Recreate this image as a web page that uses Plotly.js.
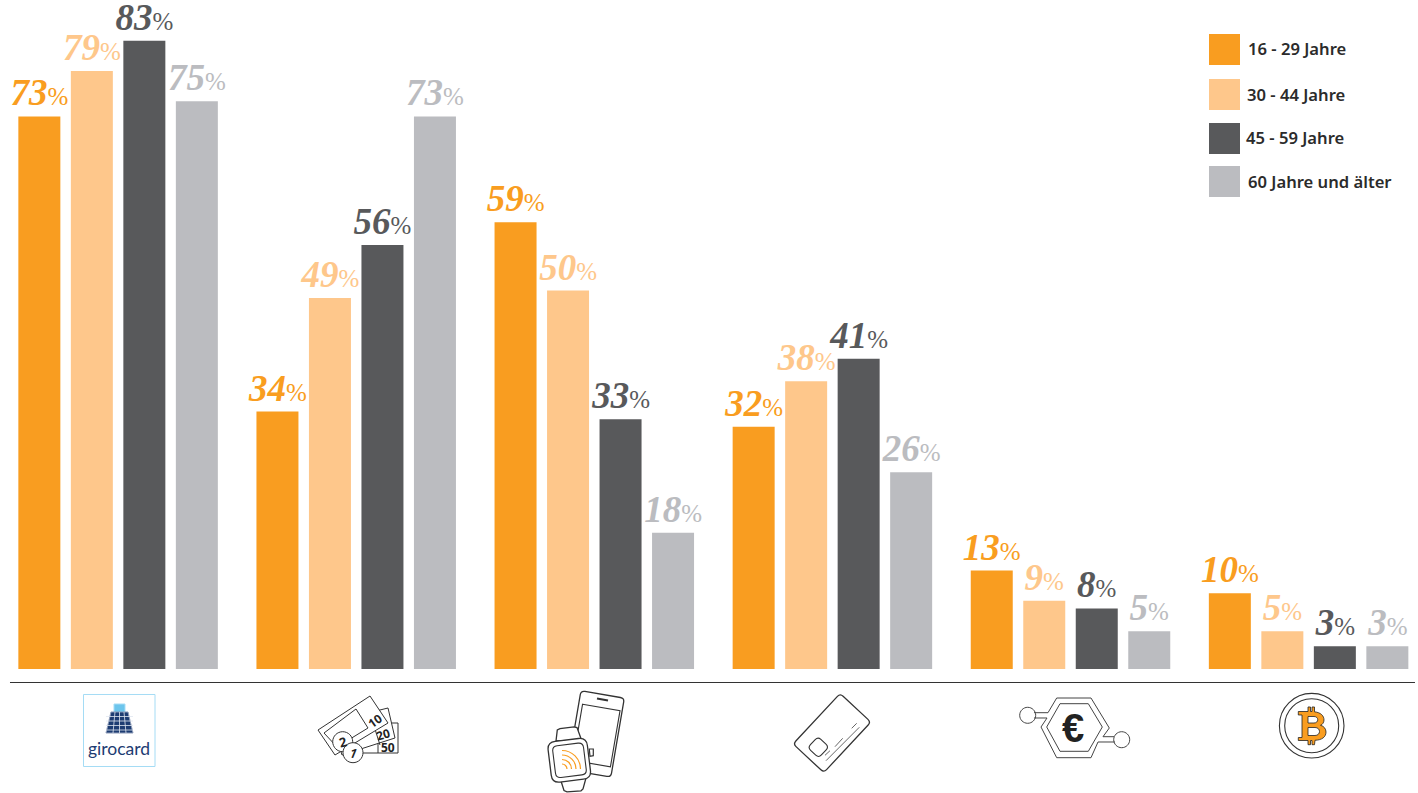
<!DOCTYPE html>
<html><head><meta charset="utf-8">
<script src="https://cdn.plot.ly/plotly-3.0.1.min.js"></script>
<style>html,body{margin:0;padding:0;background:#fff}#chart{width:1418px;height:793px}</style>
</head><body><div id="chart"></div>
<script>
const categories = ["girocard","Bargeld","Mobile Payment","Kreditkarte","Digitales Geld","Bitcoin"];
const seriesNames = ["16 - 29 Jahre","30 - 44 Jahre","45 - 59 Jahre","60 Jahre und älter"];
const seriesColors = ["#f99d20","#fec78b","#58595b","#bbbcc0"];
const age16to29 = [73,34,59,32,13,10];
const age30to44 = [79,49,50,38,9,5];
const age45to59 = [83,56,33,41,8,3];
const age60plus = [75,73,18,26,5,3];
const seriesValues = [age16to29,age30to44,age45to59,age60plus];

const W=1418,H=793;
const LABEL_FONT='"Liberation Serif", serif';
const LEGEND_FONT='"Noto Sans", "Open Sans", sans-serif';

const traces = seriesValues.map((vals,i)=>({
  type:'bar',name:seriesNames[i],x:categories,y:vals,
  marker:{color:seriesColors[i],line:{width:0}},
  text:vals.map(v=>`<b><i>${v}</i></b><span style="font-size:25px;font-weight:400">%</span>`),
  textposition:'outside',textangle:0,constraintext:'none',cliponaxis:false,
  textfont:{family:LABEL_FONT,size:37,color:seriesColors[i]},
  hoverinfo:'skip'
}));

const nx=x=>x/W, ny=y=>1-y/H;
const toPaper=d=>d.replace(/(-?[\d.]+)[ ,](-?[\d.]+)/g,(m,a,b)=>nx(+a).toFixed(6)+' '+ny(+b).toFixed(6));
const shapes=[];
function path(d,o={}){shapes.push({type:'path',xref:'paper',yref:'paper',path:toPaper(d),
  line:{color:o.stroke===undefined?'#333':o.stroke,width:o.w===undefined?1.2:o.w},
  fillcolor:o.fill||'rgba(0,0,0,0)',fillrule:'evenodd',layer:'above'});}
function poly(pts,o){path('M'+pts.map(p=>p[0]+','+p[1]).join(' L')+(o&&o.open?'':' Z'),o);}
function rrect(cx,cy,w,h,r,deg,o){
  const t=deg*Math.PI/180,c=Math.cos(t),s=Math.sin(t);
  const P=(x,y)=>(cx+x*c-y*s).toFixed(2)+','+(cy+x*s+y*c).toFixed(2);
  const a=w/2,b=h/2;
  path(`M${P(-a+r,-b)} L${P(a-r,-b)} Q${P(a,-b)} ${P(a,-b+r)} L${P(a,b-r)} Q${P(a,b)} ${P(a-r,b)} L${P(-a+r,b)} Q${P(-a,b)} ${P(-a,b-r)} L${P(-a,-b+r)} Q${P(-a,-b)} ${P(-a+r,-b)} Z`,o);
}
function circ(cx,cy,r,o){const k=r*0.5523;
  path(`M${cx-r},${cy} C${cx-r},${cy-k} ${cx-k},${cy-r} ${cx},${cy-r} C${cx+k},${cy-r} ${cx+r},${cy-k} ${cx+r},${cy} C${cx+r},${cy+k} ${cx+k},${cy+r} ${cx},${cy+r} C${cx-k},${cy+r} ${cx-r},${cy+k} ${cx-r},${cy} Z`,o);}
const annotations=[];
function label(x,y,text,o={}){annotations.push({xref:'paper',yref:'paper',x:nx(x),y:ny(y),text,showarrow:false,
  xanchor:o.anchor||'center',yanchor:'middle',textangle:o.angle||0,
  font:{family:o.family||'"Noto Sans", sans-serif',size:o.size||12,color:o.color||'#222',weight:o.weight||400}});}

path('M10,682.5 L1415,682.5',{stroke:'#333',w:1});

const legendBoxes=[[34,65,1246,49],[79,110,1245,94.3],[123,154,1244,137.3],[166,197,1246,181.3]];
legendBoxes.forEach((b,i)=>{
  shapes.push({type:'rect',xref:'paper',yref:'paper',x0:nx(1209),x1:nx(1240),y0:ny(b[1]),y1:ny(b[0]),
    fillcolor:seriesColors[i],line:{width:0}});
  label(b[2],b[3],seriesNames[i],{anchor:'left',family:LEGEND_FONT,size:16.6,weight:600,color:'#2b2b2b'});
});

poly([[83.5,694.5],[155,694.5],[155,766.5],[83.5,766.5]],{stroke:'#a5dcf5',w:1});
poly([[114,704],[125,704],[125,713],[114,713]],{stroke:'#a5dcf5',w:1,fill:'#6cc5ec'});
poly([[111,712],[128,712],[133,733],[106,733]],{stroke:'#8d9bb8',w:1,fill:'#1d3c72'});
[716.5,721,725.5,730].forEach(y=>path(`M106,${y} L133,${y}`,{stroke:'#dfe6f0',w:.8}));
path('M115,712 L113,733 M119.5,712 L119.5,733 M124,712 L126,733',{stroke:'#dfe6f0',w:.8});
label(119,748,'girocard',{family:'Lato, sans-serif',size:17.5,color:'#1d3c72'});

poly([[378,723],[398,723],[398,753],[358,753],[358,745]],{fill:'#fff',w:1});
path('M378,723 L378,753',{w:1});
poly([[388,708],[395,738],[342,755],[332,722]],{fill:'#fff',w:1});
path('M374,726 L380,745',{w:1});
poly([[370,696],[388,723],[335,755],[318,730]],{fill:'#fff',w:1});
poly([[356,709],[368,728],[337,747],[324,733]],{fill:'#fff',w:1});
label(375.5,720.5,'10',{size:12,weight:700,angle:-35});
label(383,734,'20',{size:12,weight:700,angle:-16});
label(388,747,'50',{size:12,weight:700});
circ(342.7,741.7,10,{fill:'#fff',w:1});
circ(353,752.7,10,{fill:'#fff',w:1});
label(342.5,741.5,'2',{size:13,weight:700,angle:-15});
label(353.5,752.5,'<i>1</i>',{size:13,weight:600,angle:10});

rrect(595.9,733.9,44,80,4,9.7,{fill:'#fff',w:1.3});
rrect(596.5,735.5,38,57,0,9.7,{w:1.1});
path('M597,698.5 L608,700.5',{w:2.2});
poly([[589.3,749],[593.3,749],[593.3,755.7],[590,756.3]],{fill:'#fff',w:1.2});
poly([[556,741],[557.3,730],[560,728.6],[574,726.8],[577,727.5],[581.5,740]],{fill:'#fff',w:1.3});
poly([[561,781],[564,790.5],[567,791.8],[581,790.8],[583,789],[586,778]],{fill:'#fff',w:1.3});
rrect(569.3,760.3,39.5,41,8,-7,{fill:'#fff',w:1.3});
rrect(569.5,760.3,31,32,5,-7,{fill:'#fff',w:1.1});
[18.5,14,9.5,5].forEach(r=>{const cx=562,cy=769,k=r*0.5523;
  path(`M${cx},${cy-r} C${cx+k},${cy-r} ${cx+r},${cy-k} ${cx+r},${cy}`,{stroke:'#f99d20',w:1.2});});

rrect(832,733,69,42,4,-47,{w:1.3});
rrect(818.3,747.3,15,15,4,-47,{w:1.1});
path('M825,755.3 L830,750.7 M835,746.7 L842.7,738.3 M851.7,728.3 L856.7,723.3',{w:.9,stroke:'#555'});
path('M826,760.7 L859.3,727.3',{w:.9,stroke:'#555'});

const hx={stroke:'#444',w:1};
path('M1034,712.7 L1048,712.7 L1056.7,698 L1091,698 L1109.3,728 L1103,736.7 L1114,736.7',hx);
path('M1115,742 L1098,742 L1091,757.7 L1056.7,757.7 L1041,727 L1047,718 L1034,718',hx);
poly([[1060,703.7],[1088.3,703.7],[1102.3,727],[1088.3,751.3],[1060,751.3],[1046.7,727]],hx);
circ(1027.7,715.3,8,hx);
circ(1121.7,739.7,8,hx);
label(1072.5,728,'€',{family:'"Liberation Sans", sans-serif',size:40,weight:700,color:'#222'});

circ(1311.7,725.7,32.3,{w:1.1});
circ(1311.7,725.7,27,{w:1.1});
path('M1298.3,711.5 L1308,711.5 L1308,707 L1310.5,707 L1310.5,711.5 L1312,711.5 L1312,707 L1314.5,707 L1314.5,711.8 C1321,712.5 1324,716 1324,720 C1324,722.5 1322.5,724.5 1320.5,725.3 C1324,726 1326,729 1326,732 C1326,737 1322,740 1315,740.3 L1314.5,744.7 L1312,744.7 L1312,740.5 L1310.5,740.5 L1310.5,744.7 L1308,744.7 L1308,740.5 L1298.3,740.5 L1298.3,737.5 L1302,737.5 L1302,715 L1298.3,715 Z M1308,716.5 L1314,716.5 C1319,716.5 1319,723 1314,723 L1308,723 Z M1308,727.5 L1315,727.5 C1321,727.5 1321,735.5 1315,735.5 L1308,735.5 Z',{fill:'#f99d20',stroke:'#222',w:.8});

const zeroPx=669, unitPx=7.57, firstCentre=118.1, groupPitch=238.1;
const layout={
  width:W,height:H,margin:{l:0,r:0,t:0,b:0,pad:0},
  paper_bgcolor:'#fff',plot_bgcolor:'#fff',showlegend:false,
  barmode:'group',bargap:1-210/groupPitch,bargroupgap:0.2,
  xaxis:{type:'category',categoryorder:'array',categoryarray:categories,
    range:[-firstCentre/groupPitch,(W-firstCentre)/groupPitch],
    showticklabels:false,ticks:'',showgrid:false,zeroline:false,showline:false,fixedrange:true},
  yaxis:{range:[-(H-zeroPx)/unitPx,zeroPx/unitPx],showticklabels:false,ticks:'',
    showgrid:false,zeroline:false,showline:false,fixedrange:true},
  shapes,annotations
};
Plotly.newPlot('chart',traces,layout,{displayModeBar:false,staticPlot:true});
</script></body></html>
